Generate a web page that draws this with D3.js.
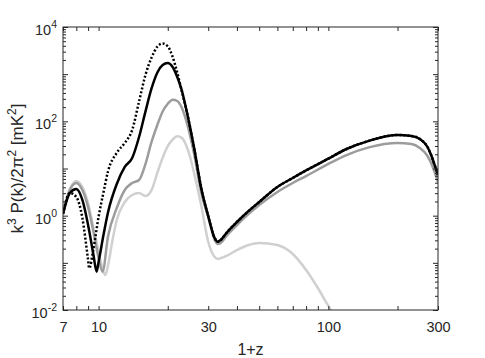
<!DOCTYPE html>
<html>
<head>
<meta charset="utf-8">
<script src="https://cdn.jsdelivr.net/npm/d3@7"></script>
<style>
  body { margin: 0; background: #fff; }
  svg { font-family: "Liberation Sans", Arial, Helvetica, sans-serif; }
</style>
</head>
<body>
<svg id="chart" width="485" height="358"></svg>
<script>
// values (1+z, k^3 P(k)/2pi^2 in mK^2)
var blackZ = [7,7.5,8,8.5,9,9.5,9.8,10,10.5,11,12,13,14,15,16,17,18,19,20,21,22,23,24,25,26,28,30,32,33,34,36,40,45,50,60,70,80,100,120,150,200,230,250,270,280,290,300];
var blackP = [1.09,3.03,3.68,2.15,0.634,0.147,0.065,0.104,0.389,1.2,4.7,10.8,16.7,46.6,163,497,1075,1563,1726,1419,871,461,192,75.9,28.6,3.7,0.98,0.336,0.28,0.305,0.43,0.734,1.26,1.95,4.06,6.3,9.1,16.2,25.9,38.6,51.3,48.9,42.3,28.6,19.3,11.9,7.3];

var dotZ = [7,7.5,8,8.5,9,9.1,9.5,10,10.5,11,12,13,14,15,16,17,18,19,20,21,22,23,24,25,26,28,30,32,33,34,36,40,45,50,60,70,80,100,120,150,200,230,250,270,280,290,300];
var dotP = [1.09,3.03,2.49,0.89,0.115,0.0766,0.2,0.95,3.1,8.85,21.5,34.8,65.5,264,970,2244,3819,4470,3899,2323,1084,441,192,75.9,28.6,3.7,0.98,0.336,0.28,0.305,0.43,0.734,1.26,1.95,4.06,6.3,9.1,16.2,25.9,38.6,51.3,48.9,42.3,28.6,19.3,11.9,7.3];

var grayZ = [7,7.5,8,8.5,9,9.5,10,10.4,11,12,13,14,15,16,17,18,19,20,21,22,23,24,25,26,28,30,32,33,34,36,40,45,50,60,70,80,100,120,150,200,230,250,270,280,290,300];
var grayP = [1.14,3.5,4.93,3.5,1.53,0.45,0.127,0.065,0.37,1.46,3.5,4.93,5.7,12.5,36.6,82.8,162,236,287,270,196,108,51,21.1,3.03,0.94,0.305,0.251,0.264,0.371,0.634,1.09,1.68,3.18,4.93,6.9,12.5,19.3,28.1,34.8,33.1,27.2,18.4,13.1,8.4,5.2];

var lightZ = [7,7.5,8,8.5,9,9.5,10,10.5,10.7,11,11.5,12,13,14,15,16,17,18,19,20,21,22,23,24,25,26,28,30,32,33,36,40,45,50,60,70,80,90,100,120];
var lightP = [1.14,3.68,5.43,4.06,1.86,0.548,0.17,0.064,0.055,0.09,0.305,0.81,1.95,2.74,3.03,2.61,3.47,8.0,16.9,29.9,40.8,48,44.6,32,17.8,8.2,1.6,0.28,0.133,0.121,0.14,0.187,0.239,0.264,0.239,0.154,0.0705,0.0293,0.0122,0.003];

var xTicks = [7,8,9,10,20,30,40,50,60,70,80,90,100,200,300];
var xLabels = [7,10,30,100,300];
var yLabels = [1e-2,1e0,1e2,1e4];
var yLabelExp = ["-2","0","2","4"];

var svg = d3.select("#chart");
var pLeft = 63, pRight = 438, pTop = 27, pBottom = 310;
var axisColor = "#262626";

var x = d3.scaleLog().domain([7,300]).range([pLeft,pRight]);
var y = d3.scaleLog().domain([1e-2,1e4]).range([pBottom,pTop]);

// y ticks: every 1..9 x decade
var yTicks = [];
for (var e = -2; e <= 4; e++) {
  for (var m = 1; m <= 9; m++) {
    var v = m * Math.pow(10, e);
    if (v <= 1e4 * 1.0001) yTicks.push(v);
  }
}

svg.append("clipPath").attr("id", "plotclip")
  .append("rect").attr("x", pLeft).attr("y", pTop)
  .attr("width", pRight - pLeft).attr("height", pBottom - pTop);

var plot = svg.append("g").attr("clip-path", "url(#plotclip)");

var line = d3.line()
  .x(function(d) { return x(d[0]); })
  .y(function(d) { return y(d[1]); })
  .curve(d3.curveMonotoneX);

var series = [
  {z: lightZ, p: lightP, color: "#d0d0d0", dash: null},
  {z: grayZ, p: grayP, color: "#9c9c9c", dash: null},
  {z: dotZ, p: dotP, color: "#000", dash: "2,2"},
  {z: blackZ, p: blackP, color: "#000", dash: null}
];

series.forEach(function(s) {
  plot.append("path")
    .datum(d3.zip(s.z, s.p))
    .attr("fill", "none")
    .attr("stroke", s.color)
    .attr("stroke-width", 2.5)
    .attr("stroke-dasharray", s.dash)
    .attr("d", line);
});

function styleAxis(g) {
  g.select(".domain").remove();
  g.selectAll("line").attr("stroke", axisColor);
  g.selectAll("text").attr("fill", axisColor);
}

// bottom axis with labels
svg.append("g")
  .attr("transform", "translate(0," + pBottom + ")")
  .call(d3.axisBottom(x).tickValues(xTicks).tickSize(-4).tickPadding(12)
    .tickFormat(function(d) { return xLabels.indexOf(d) >= 0 ? d : ""; }))
  .call(styleAxis)
  .selectAll("text").attr("font-size", 14.5).attr("font-family", null);

svg.append("g")
  .attr("transform", "translate(0," + pTop + ")")
  .call(d3.axisTop(x).tickValues(xTicks).tickSize(-4).tickFormat(""))
  .call(styleAxis);

var yl = svg.append("g")
  .attr("transform", "translate(" + pLeft + ",0)")
  .call(d3.axisLeft(y).tickValues(yTicks).tickSize(-3).tickFormat(""))
  .call(styleAxis);
var yr = svg.append("g")
  .attr("transform", "translate(" + pRight + ",0)")
  .call(d3.axisRight(y).tickValues(yTicks).tickSize(-3).tickFormat(""))
  .call(styleAxis);

// longer ticks at decades
[yl, yr].forEach(function(g, i) {
  g.selectAll(".tick line").filter(function(d) {
    return Math.abs(Math.log10(d) - Math.round(Math.log10(d))) < 1e-6;
  }).attr("x2", i === 0 ? 5 : -5);
});

// frame
svg.append("rect")
  .attr("x", pLeft).attr("y", pTop)
  .attr("width", pRight - pLeft).attr("height", pBottom - pTop)
  .attr("fill", "none").attr("stroke", axisColor).attr("stroke-width", 1);

// y tick labels with superscripts
var ylab = svg.append("g").selectAll("text")
  .data(yLabels)
  .enter().append("text")
  .attr("x", 57)
  .attr("y", function(d) { return y(d) + 8; })
  .attr("text-anchor", "end")
  .attr("fill", axisColor)
  .attr("font-size", 14.5);
ylab.append("tspan").text("10");
ylab.append("tspan")
  .attr("font-size", 10.5)
  .attr("dy", -7)
  .text(function(d, i) { return yLabelExp[i]; });

// axis titles
svg.append("text")
  .attr("x", (pLeft + pRight) / 2)
  .attr("y", 355)
  .attr("text-anchor", "middle")
  .attr("fill", axisColor)
  .attr("font-size", 16)
  .text("1+z");

var yt = svg.append("text")
  .attr("transform", "translate(23," + ((pTop + pBottom) / 2) + ") rotate(-90)")
  .attr("text-anchor", "middle")
  .attr("fill", axisColor)
  .attr("font-size", 17);
yt.append("tspan").text("k");
yt.append("tspan").attr("font-size", 12).attr("dy", -7).text("3");
yt.append("tspan").attr("dy", 7).text(" P(k)/2\u03c0");
yt.append("tspan").attr("font-size", 12).attr("dy", -7).text("2");
yt.append("tspan").attr("dy", 7).text(" [mK");
yt.append("tspan").attr("font-size", 12).attr("dy", -7).text("2");
yt.append("tspan").attr("dy", 7).text("]");
</script>
</body>
</html>
